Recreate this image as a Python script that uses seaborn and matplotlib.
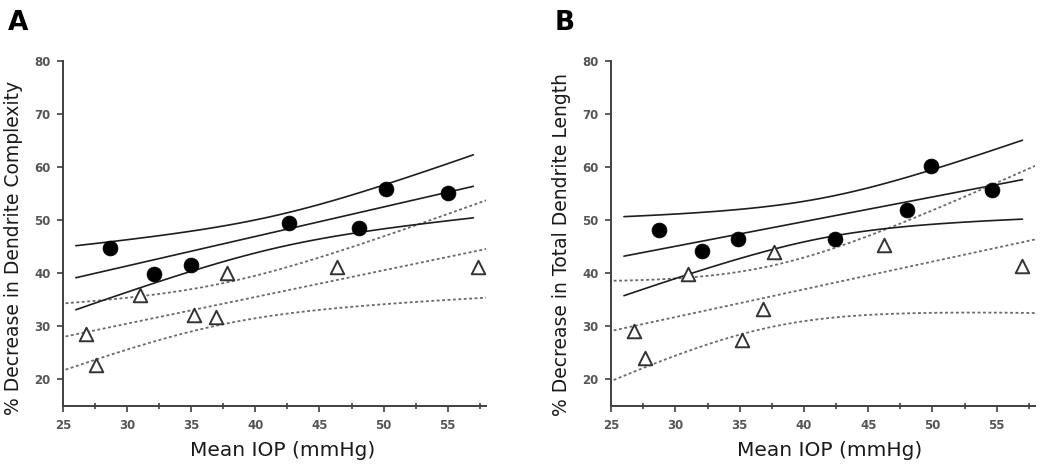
import numpy as np
import pandas as pd
import matplotlib
matplotlib.use("Agg")
import matplotlib.pyplot as plt
import seaborn as sns
from matplotlib.ticker import MultipleLocator

# ---------------- data ----------------
# Panel A: % decrease in dendrite complexity
a_circle_x = [28.7, 32.1, 35.0, 42.6, 48.1, 50.2, 55.0]
a_circle_y = [44.7, 39.8, 41.6, 49.4, 48.6, 55.8, 55.2]
a_tri_x = [26.8, 27.6, 31.0, 35.2, 36.9, 37.8, 46.4, 57.4]
a_tri_y = [28.6, 22.8, 36.0, 32.2, 31.8, 40.1, 41.1, 41.2]

# Panel B: % decrease in total dendrite length
b_circle_x = [28.7, 32.1, 34.9, 42.4, 48.0, 49.9, 54.6]
b_circle_y = [48.2, 44.2, 46.5, 46.4, 51.9, 60.2, 55.7]
b_tri_x = [26.8, 27.6, 31.0, 35.2, 36.8, 37.7, 46.2, 57.0]
b_tri_y = [29.1, 24.1, 39.8, 27.5, 33.3, 44.0, 45.4, 41.3]

panel_letters = ["A", "B"]
y_labels = ["% Decrease in Dendrite Complexity", "% Decrease in Total Dendrite Length"]
x_label = "Mean IOP (mmHg)"
x_ticks = [25, 30, 35, 40, 45, 50, 55]
y_ticks = [20, 30, 40, 50, 60, 70, 80]

# two-sided 95% t critical values by degrees of freedom
T95 = {5: 2.5706, 6: 2.4469}

# ---------------- style ----------------
sns.set_style("ticks")
plt.rcParams["font.family"] = ["DejaVu Sans"]

fig = plt.figure(figsize=(10.5, 4.71), dpi=100)
axA = fig.add_axes([0.060, 0.138, 0.403, 0.7325])
axB = fig.add_axes([0.582, 0.138, 0.404, 0.7325])

line_col = "#1e1e1e"
dot_col = "#6a6a6a"
spine_col = "#404040"


def fit_band(x, y, lo, hi):
    x = np.asarray(x, float)
    y = np.asarray(y, float)
    n = len(x)
    slope, icpt = np.polyfit(x, y, 1)
    resid = y - (slope * x + icpt)
    s = np.sqrt(np.sum(resid ** 2) / (n - 2))
    xm = x.mean()
    sxx = np.sum((x - xm) ** 2)
    xs = np.linspace(lo, hi, 120)
    yhat = slope * xs + icpt
    se = s * np.sqrt(1.0 / n + (xs - xm) ** 2 / sxx)
    t = T95[n - 2]
    return pd.DataFrame({"x": xs, "fit": yhat, "upper": yhat + t * se, "lower": yhat - t * se})


def draw(ax, cx, cy, tx, ty, ylab, ylab_y, xlab_x):
    circ = fit_band(cx, cy, 26.0, 57.0)
    tri = fit_band(tx, ty, 25.2, 58.0)
    for col in ["fit", "upper", "lower"]:
        sns.lineplot(data=tri, x="x", y=col, ax=ax, color=dot_col, lw=1.3,
                     linestyle=(0, (1.6, 1.4)), estimator=None, sort=True)
        sns.lineplot(data=circ, x="x", y=col, ax=ax, color=line_col, lw=1.2,
                     estimator=None, sort=True)
    sns.scatterplot(x=cx, y=cy, ax=ax, marker="o", s=115, color="black",
                    edgecolor="black", linewidth=0.5, zorder=5)
    sns.scatterplot(x=tx, y=ty, ax=ax, marker="^", s=95, facecolor="white",
                    edgecolor="#333333", linewidth=1.4, zorder=5)

    ax.set_xlim(25, 58)
    ax.set_ylim(15, 80)
    ax.set_xticks(x_ticks)
    ax.set_yticks(y_ticks)
    ax.xaxis.set_minor_locator(MultipleLocator(2.5))
    ax.tick_params(axis="both", which="major", direction="out", length=4,
                   width=1.2, color=spine_col, labelsize=8.5, labelcolor="#555555", pad=5)
    ax.tick_params(axis="x", which="minor", direction="inout", length=5,
                   width=1.2, color=spine_col)
    for lab in ax.get_xticklabels() + ax.get_yticklabels():
        lab.set_fontweight("bold")
    sns.despine(ax=ax)
    for sp in ["left", "bottom"]:
        ax.spines[sp].set_color(spine_col)
        ax.spines[sp].set_linewidth(1.4)

    ax.set_xlabel(x_label, fontsize=14.5, color="#1a1a1a")
    ax.set_ylabel(ylab, fontsize=13.5, color="#1a1a1a")
    ax.xaxis.set_label_coords(xlab_x, -0.10)
    ax.yaxis.set_label_coords(-0.095, ylab_y)


draw(axA, a_circle_x, a_circle_y, a_tri_x, a_tri_y, y_labels[0], 0.458, 0.518)
draw(axB, b_circle_x, b_circle_y, b_tri_x, b_tri_y, y_labels[1], 0.467, 0.516)

fig.text(8 / 1050, 1 - 30 / 471, panel_letters[0], fontsize=19, fontweight="bold",
         ha="left", va="baseline", color="black")
fig.text(555 / 1050, 1 - 30 / 471, panel_letters[1], fontsize=19, fontweight="bold",
         ha="left", va="baseline", color="black")

fig.savefig("out.png", dpi=100, facecolor="white")
